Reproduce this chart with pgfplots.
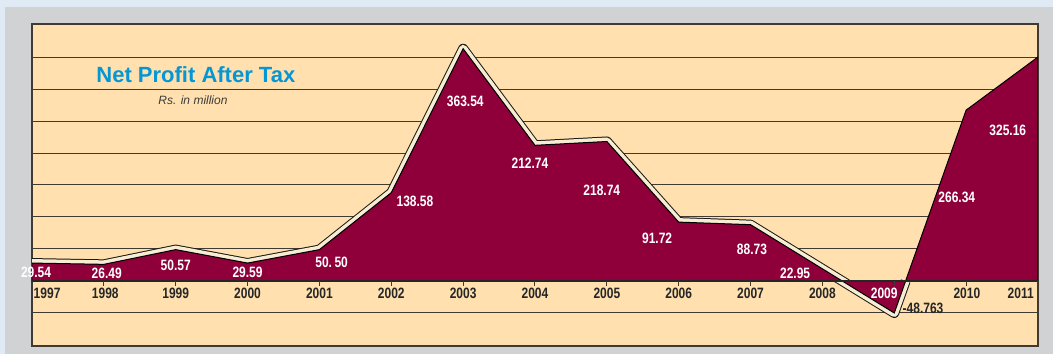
\documentclass[border=0pt]{standalone}
\usepackage{pgfplots}
\pgfplotsset{compat=1.18}
\usepackage{fontspec}
\setmainfont{Liberation Sans}
\newfontfamily\labfont[FakeStretch=0.8]{Liberation Sans}
\newfontfamily\titfont{Liberation Sans}
\definecolor{peach}{HTML}{FFE0AE}
\definecolor{maroon}{HTML}{8F003B}
\definecolor{panelgray}{HTML}{D0D2D4}
\definecolor{outerblue}{HTML}{DFEAF5}
\definecolor{titleblue}{HTML}{0596D6}
\definecolor{gridc}{HTML}{403A33}
\definecolor{cream}{HTML}{F7EDD3}
\definecolor{tickc}{HTML}{262626}
\definecolor{subc}{HTML}{3C3C3C}
\newcommand{\lab}{\labfont\bfseries\fontsize{15bp}{15bp}\selectfont}
\begin{document}
\begin{tikzpicture}
\fill[outerblue] (0,0) rectangle (1053bp,354bp);
\fill[panelgray] (5bp,0) rectangle (1053bp,347bp);
\begin{axis}[
  at={(32bp,8bp)}, anchor=south west,
  scale only axis, width=1006bp, height=322bp,
  xmin=1997, xmax=2011, ymin=-101.6, ymax=401.6,
  axis background/.style={fill=peach},
  axis line style={line width=1.5bp, color=gridc},
  xtick=\empty,
  ytick={-50,0,50,100,150,200,250,300,350},
  yticklabels={},
  major tick length=0pt,
  ymajorgrids,
  grid style={line width=1bp, color=gridc},
  clip mode=individual,
]
% outer contour band (black edge + cream band), inner half covered by the area
\addplot[draw=black!90, line width=10bp, line join=round, line cap=butt, forget plot]
  coordinates {(1997,28) (1998,26) (1999,49) (2000,28) (2001,49) (2002,138) (2003,363) (2004,212) (2005,218) (2006,92) (2007,88) (2008,19) (2009,-50) (2009.158,0)};
\addplot[draw=cream, line width=8bp, line join=round, line cap=butt, forget plot]
  coordinates {(1997,28) (1998,26) (1999,49) (2000,28) (2001,49) (2002,138) (2003,363) (2004,212) (2005,218) (2006,92) (2007,88) (2008,19) (2009,-50) (2009.158,0)};
% area
\addplot[fill=maroon, draw=black, line width=1bp, line join=miter]
  coordinates {(1997,28) (1998,26) (1999,49) (2000,28) (2001,49) (2002,138) (2003,363) (2004,212) (2005,218) (2006,92) (2007,88) (2008,19) (2009,-50) (2010,267) (2011,350)} \closedcycle;
% axis line and ticks
\draw[line width=1.8bp, color=black!85] (axis cs:1997,0) -- (axis cs:2011,0);
\pgfplotsinvokeforeach{1998,1999,2000,2001,2002,2003,2004,2005,2006,2007,2008,2009,2010,2011}{
  \draw[line width=1bp, color=gridc] (axis cs:#1,0) -- (axis cs:#1,-8);
}
% tick labels
\node[text=tickc, font=\lab] at (axis cs:1997.21,-18.7) {1997};
\node[text=tickc, font=\lab] at (axis cs:1998.02,-18.7) {1998};
\node[text=tickc, font=\lab] at (axis cs:1999,-18.7) {1999};
\node[text=tickc, font=\lab] at (axis cs:2000,-18.7) {2000};
\node[text=tickc, font=\lab] at (axis cs:2001,-18.7) {2001};
\node[text=tickc, font=\lab] at (axis cs:2002,-18.7) {2002};
\node[text=tickc, font=\lab] at (axis cs:2003,-18.7) {2003};
\node[text=tickc, font=\lab] at (axis cs:2004,-18.7) {2004};
\node[text=tickc, font=\lab] at (axis cs:2005,-18.7) {2005};
\node[text=tickc, font=\lab] at (axis cs:2006,-18.7) {2006};
\node[text=tickc, font=\lab] at (axis cs:2007,-18.7) {2007};
\node[text=tickc, font=\lab] at (axis cs:2008,-18.7) {2008};
\node[text=white, font=\lab] at (axis cs:2008.86,-18.7) {2009};
\node[text=tickc, font=\lab] at (axis cs:2010.01,-18.7) {2010};
\node[text=tickc, font=\lab] at (axis cs:2010.76,-18.7) {2011};
% value labels
\node[text=white, font=\lab] at (axis cs:1997.056,14) {29.54};
\node[text=white, font=\lab] at (axis cs:1998.04,12.5) {26.49};
\node[text=white, font=\lab] at (axis cs:1999.0,25) {50.57};
\node[text=white, font=\lab] at (axis cs:2000.0,14) {29.59};
\node[text=white, font=\lab] at (axis cs:2001.17,29.7) {50.\,50};
\node[text=white, font=\lab] at (axis cs:2002.33,125) {138.58};
\node[text=white, font=\lab] at (axis cs:2003.03,281) {363.54};
\node[text=white, font=\lab] at (axis cs:2003.93,184) {212.74};
\node[text=white, font=\lab] at (axis cs:2004.93,142) {218.74};
\node[text=white, font=\lab] at (axis cs:2005.70,67) {91.72};
\node[text=white, font=\lab] at (axis cs:2007.02,50) {88.73};
\node[text=white, font=\lab] at (axis cs:2007.62,12.5) {22.95};
\node[text=tickc, font=\lab] at (axis cs:2009.40,-42) {-48.763};
\node[text=white, font=\lab] at (axis cs:2009.87,130) {266.34};
\node[text=white, font=\lab] at (axis cs:2010.58,236) {325.16};
% title
\node[text=titleblue, font=\titfont\bfseries\fontsize{22bp}{22bp}\selectfont] at (axis cs:1999.28,323) {Net Profit After Tax};
\node[text=subc, font=\itshape\fontsize{12bp}{12bp}\selectfont] at (axis cs:1999.24,282) {Rs. in million};
\end{axis}
\end{tikzpicture}
\end{document}
